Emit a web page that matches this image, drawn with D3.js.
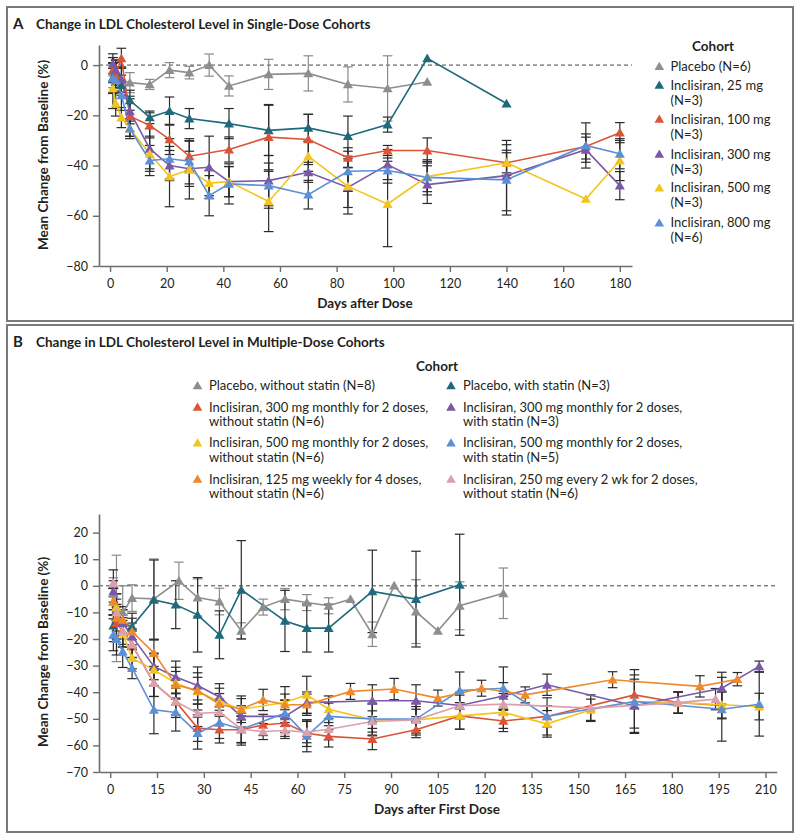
<!DOCTYPE html>
<html><head><meta charset="utf-8">
<script src="https://cdn.jsdelivr.net/npm/d3@7"></script>
<style>body{margin:0;background:#fff}svg text{font-family:Lato,"Open Sans",sans-serif;fill:#231f20}</style>
</head><body><svg id="c" width="800" height="839"></svg>
<script>
// ---------- Panel A data ----------
const colors = {placebo:"#8e8e8e", teal:"#1e6a7c", red:"#dc5438", purple:"#7a58a8", yellow:"#f3c51c", blue:"#5b8fd6", orange:"#ee8a2c", pink:"#dba0ae"};
const aPlaceboDays=[1,2,4,7,14,21,28,35,42,56,70,84,98,112];
const aPlaceboVals=[-3,-4,-6,-7,-7.7,-2,-3,0,-8.3,-3.7,-3.3,-7.7,-9.3,-6.7];
const aPlaceboErr=[6,5,5,4,2,3,2.5,4.4,4,6,7,7,13,0];
const a25Days=[1,2,4,7,14,21,28,42,56,70,84,98,112,140];
const a25Vals=[-5,-3,-8,-14,-20.8,-18.3,-21.3,-23.3,-26,-25,-28.3,-23.7,2.7,-15.3];
const a25Err=[6,5,4,4,2.5,5.6,4,6,10,5.4,8,3,0,0];
const a100Days=[1,2,4,7,14,21,28,42,56,70,84,98,112,140,168,180];
const a100Vals=[-2,-4,2.7,-20.4,-24,-29.6,-36.3,-33.6,-28.7,-29.6,-36.9,-34,-34,-38.9,-32.4,-26.9];
const a100Err=[5,5,4,8,5,6,6,5,13,10,4,2,5,4,5,4];
const a300Days=[1,2,4,7,14,21,28,35,42,56,70,84,98,112,140,168,180];
const a300Vals=[0.5,-2,-5.7,-18.4,-33.3,-40,-41.3,-40.7,-46.4,-46,-42.7,-48.7,-39.6,-47.6,-44,-33.7,-48];
const a300Err=[4,4,5,5,8,6,7,12.4,6,10,4,8,6,7.5,14,5,5.6];
const a500Days=[1,2,4,7,14,21,28,35,42,56,70,84,98,112,140,168,180];
const a500Vals=[-9.3,-15.3,-20.9,-25.3,-35.3,-44.4,-41.7,-47,-46.4,-54.3,-36.3,-48.3,-55.3,-44.4,-38.9,-53.3,-38];
const a500Err=[8,5,4,3,7,12,11.6,5,6,12,6,11,17,6,5,0,8];
const a800Days=[1,2,4,7,14,21,28,35,42,56,70,84,98,112,140,168,180];
const a800Vals=[-5.3,-6,-12,-25.3,-38,-37.3,-38.3,-52,-47.3,-48,-51.6,-42.3,-42,-44.7,-45.7,-32,-35.3];
const a800Err=[6,5,6,4,6,8,9,8,8,9,5.7,8,5,7,14,9,6];
const aLabels=[["Placebo (N=6)"],["Inclisiran, 25 mg","(N=3)"],["Inclisiran, 100 mg","(N=3)"],["Inclisiran, 300 mg","(N=3)"],["Inclisiran, 500 mg","(N=3)"],["Inclisiran, 800 mg","(N=6)"]];
const aXTicks=[0,20,40,60,80,100,120,140,160,180];
const aYTicks=[0,-20,-40,-60,-80];

// ---------- Panel B data ----------
const bPlaceboDays=[1,2,4,7,14,22,28,35,42,49,56,63,70,77,84,91,98,105,112,126];
const bPlaceboVals=[-3,-8.5,-10,-4.6,-4.9,1.9,-4.4,-5.9,-16.9,-8,-5,-6.3,-7.5,-5,-18.2,0.1,-9.7,-16.9,-7.5,-2.8];
const bPlaceboErr=[6,20,10,5,15,7,7,5,3,3,4,3,3,0,4.6,0,12,0,9,9.5];
const bPlStatDays=[1,2,4,7,14,21,28,35,42,56,63,70,84,98,112];
const bPlStatVals=[-15,-13,-14,-15.3,-5.3,-7.1,-10.9,-18.4,-1.5,-13.2,-15.9,-15.9,-2.1,-5,0.4];
const bPlStatErr=[6,6,5,5,15,9,14,9,18.5,11.5,9,9,15.5,18,19];
const b300Days=[1,2,4,7,14,21,28,35,42,49,56,63,70,84,98,112,126,140,168,182,196];
const b300Vals=[-6,-14,-17,-22.2,-36.6,-43.5,-53.5,-54.1,-54.1,-52.3,-51.6,-55.4,-56.6,-57.6,-54.1,-48.9,-50.8,-49.1,-41,-43.9,-45];
const b300Err=[5,6,6,6,5,6,5,5,5,4,5,5,4,4,3,5,4,4,5,4,5];
const b300sDays=[1,2,4,7,14,21,28,35,42,56,63,84,98,112,126,140,168,196,208];
const b300sVals=[-2.1,-8,-14,-19,-30.3,-34.3,-37.5,-41.8,-49.1,-49.1,-43.9,-43.2,-43.2,-45,-41.4,-37.2,-45.1,-38.5,-30.3];
const b300sErr=[4,5,5,5,5,6,7,5,4,6,4,6,6,5,5,4,10,6,2];
const b500Days=[1,2,4,7,14,21,28,35,42,56,63,70,84,98,112,126,140,154,168,182,196,208];
const b500Vals=[-6,-8,-18,-27.2,-31.6,-36.6,-39.7,-43.5,-46.4,-43.9,-41,-46.4,-50.4,-50.4,-48.9,-47.6,-51.9,-46.6,-43.5,-43.9,-44.7,-45.4];
const b500Err=[5,5,5,4,6,6,7,5,5,6,7,5,6,5,5,6,5,4,10,4,5,5];
const b500sDays=[1,2,4,7,14,21,28,35,42,56,63,70,84,98,112,126,140,168,196,208];
const b500sVals=[-18.4,-20,-24.7,-30.9,-46.6,-47.6,-55.4,-51.4,-53.9,-47.9,-56.4,-49.1,-50.1,-50.1,-39.4,-38.5,-49.1,-43.5,-46.4,-44.5];
const b500sErr=[6,6,6,4,9,7,6,6,6,5,6,5,6,6,7,8,7,12,12,12];
const b125Days=[1,2,4,7,14,21,28,35,42,49,56,63,77,91,105,119,133,161,189,201];
const b125Vals=[-5.9,-12,-12.8,-17.2,-25.3,-37.2,-39.4,-44.5,-46.4,-42.9,-44.7,-44.7,-39.7,-38.8,-42.2,-38.5,-41,-35.3,-37.8,-35.1];
const b125Err=[5,5,5,5,5,5,5,4,4,4,4,4,3,4,3,3,3,3,4,2.5];
const b250Days=[1,2,4,7,14,21,28,35,42,49,56,63,70,84,98,112,126,154,182,194];
const b250Vals=[1,-10,-17,-22,-36.6,-43.5,-47.9,-47.6,-53.9,-54.8,-54.4,-55,-53.9,-51,-50.4,-45.1,-44.5,-46,-43.9,-42.6];
const b250Err=[5,5,5,5,5,5,5,5,5,3,3,4,4,4,4,4,4,5,4,4];
const bLabels=[["Placebo, without statin (N=8)"],["Placebo, with statin (N=3)"],
 ["Inclisiran, 300 mg monthly for 2 doses,","without statin (N=6)"],["Inclisiran, 300 mg monthly for 2 doses,","with statin (N=3)"],
 ["Inclisiran, 500 mg monthly for 2 doses,","without statin (N=6)"],["Inclisiran, 500 mg monthly for 2 doses,","with statin (N=5)"],
 ["Inclisiran, 125 mg weekly for 4 doses,","without statin (N=6)"],["Inclisiran, 250 mg every 2 wk for 2 doses,","without statin (N=6)"]];
const bXTicks=[0,15,30,45,60,75,90,105,120,135,150,165,180,195,210];
const bYTicks=[20,10,0,-10,-20,-30,-40,-50,-60,-70];

function mk(days,vals,err,color,isPlacebo){return {pts:days.map((d,i)=>({d:d,v:vals[i],e:err[i]})),color:color,ebar:isPlacebo?"#8a8a8a":"#2b2b2b"};}
const seriesA=[mk(aPlaceboDays,aPlaceboVals,aPlaceboErr,colors.placebo,true),mk(a25Days,a25Vals,a25Err,colors.teal),
 mk(a100Days,a100Vals,a100Err,colors.red),mk(a300Days,a300Vals,a300Err,colors.purple),
 mk(a500Days,a500Vals,a500Err,colors.yellow),mk(a800Days,a800Vals,a800Err,colors.blue)];
const seriesB=[mk(bPlaceboDays,bPlaceboVals,bPlaceboErr,colors.placebo,true),mk(bPlStatDays,bPlStatVals,bPlStatErr,colors.teal),
 mk(b300Days,b300Vals,b300Err,colors.red),mk(b300sDays,b300sVals,b300sErr,colors.purple),
 mk(b500Days,b500Vals,b500Err,colors.yellow),mk(b500sDays,b500sVals,b500sErr,colors.blue),
 mk(b125Days,b125Vals,b125Err,colors.orange),mk(b250Days,b250Vals,b250Err,colors.pink)];
const legendColorsB=[colors.placebo,colors.teal,colors.red,colors.purple,colors.yellow,colors.blue,colors.orange,colors.pink];

const svg=d3.select("#c");
const tri=d3.symbol().type(d3.symbolTriangle).size(44);
const triLeg=d3.symbol().type(d3.symbolTriangle).size(40);
const fmt=v=>v<0?"\u2212"+Math.abs(v):String(v);

// frames
svg.append("rect").attr("x",7).attr("y",7).attr("width",786).attr("height",314).attr("fill","none").attr("stroke","#7a7a7a").attr("stroke-width",2);
svg.append("rect").attr("x",7).attr("y",325).attr("width",786).attr("height",507).attr("fill","none").attr("stroke","#7a7a7a").attr("stroke-width",2);

function panel(series,x,y,xt,yt,xlab,ylabY,xlabPos){
  const g=svg.append("g");
  const [x0,x1]=x.range(),[y0,y1]=y.range();
  g.append("line").attr("x1",x0).attr("x2",x1).attr("y1",y(0)).attr("y2",y(0)).attr("stroke","#444").attr("stroke-width",1).attr("stroke-dasharray","4,3");
  const ax=g.append("g").attr("transform",`translate(0,${y0})`).call(d3.axisBottom(x).tickValues(xt).tickSize(6).tickSizeOuter(0).tickFormat(fmt));
  const ay=g.append("g").attr("transform",`translate(${x0},0)`).call(d3.axisLeft(y).tickValues(yt).tickSize(6).tickSizeOuter(0).tickFormat(fmt));
  [ax,ay].forEach(a=>{a.select(".domain").attr("stroke","#6d6d6d").attr("stroke-width",1.6);
    a.selectAll(".tick line").attr("stroke","#6d6d6d").attr("stroke-width",1.4);
    a.selectAll(".tick text").attr("font-size",12.5).attr("fill","#231f20").style("font-family","Lato");});
  ax.selectAll(".tick text").attr("dy","1.05em");
  ay.selectAll(".tick text").attr("dx","-2");
  g.append("text").attr("x",xlabPos[0]).attr("y",xlabPos[1]).attr("text-anchor","middle").attr("font-size",13.5).attr("font-weight","bold").text(xlab);
  g.append("text").attr("transform",`translate(48,${ylabY}) rotate(-90)`).attr("text-anchor","middle").attr("font-size",13.5).attr("font-weight","bold").text("Mean Change from Baseline (%)");
  series.forEach(s=>{
    const eb=g.append("g").attr("stroke",s.ebar).attr("stroke-width",1.2);
    s.pts.filter(p=>p.e>0).forEach(p=>{
      const cx=x(p.d),t=y(p.v+p.e),b=y(p.v-p.e);
      eb.append("line").attr("x1",cx).attr("x2",cx).attr("y1",t).attr("y2",b);
      eb.append("line").attr("x1",cx-4.8).attr("x2",cx+4.8).attr("y1",t).attr("y2",t);
      eb.append("line").attr("x1",cx-4.8).attr("x2",cx+4.8).attr("y1",b).attr("y2",b);
    });
  });
  const line=d3.line().x(p=>x(p.d)).y(p=>y(p.v));
  series.forEach(s=>{
    g.append("path").datum(s.pts).attr("d",line).attr("fill","none").attr("stroke",s.color).attr("stroke-width",1.6);
  });
  series.forEach(s=>{
    g.selectAll(null).data(s.pts).enter().append("path").attr("d",tri)
      .attr("transform",p=>`translate(${x(p.d)},${y(p.v)+1})`).attr("fill",s.color);
  });
}

// Panel A
svg.append("text").attr("x",13).attr("y",29).attr("font-size",15).attr("font-weight","bold").text("A");
svg.append("text").attr("x",36).attr("y",29).attr("font-size",13.5).attr("font-weight","bold").text("Change in LDL Cholesterol Level in Single-Dose Cohorts");
const xA=d3.scaleLinear().domain([-3.9,184.3]).range([99,632]);
const yA=d3.scaleLinear().domain([-80,8]).range([266,45]);
panel(seriesA,xA,yA,aXTicks,aYTicks,"Days after Dose",155,[365,308]);

// Legend A
svg.append("text").attr("x",713).attr("y",51).attr("text-anchor","middle").attr("font-size",13.5).attr("font-weight","bold").text("Cohort");
const legAy=[66.3,85,119,154,187.7,222.7];
aLabels.forEach((lab,i)=>{
  svg.append("path").attr("d",triLeg).attr("transform",`translate(659.3,${legAy[i]+1})`).attr("fill",seriesA[i].color);
  lab.forEach((t,j)=>svg.append("text").attr("x",670.5).attr("y",legAy[i]+4.5+j*15.2).attr("font-size",13).text(t));
});

// Panel B
svg.append("text").attr("x",13).attr("y",347).attr("font-size",15).attr("font-weight","bold").text("B");
svg.append("text").attr("x",36).attr("y",347).attr("font-size",13.5).attr("font-weight","bold").text("Change in LDL Cholesterol Level in Multiple-Dose Cohorts");
const xB=d3.scaleLinear().domain([-3.6,213.6]).range([99,776.7]);
const yB=d3.scaleLinear().domain([-70,27]).range([772,514]);
panel(seriesB,xB,yB,bXTicks,bYTicks,"Days after First Dose",652,[437,814]);

// Legend B
svg.append("text").attr("x",437).attr("y",371).attr("text-anchor","middle").attr("font-size",13.5).attr("font-weight","bold").text("Cohort");
const legBy=[385.5,407,442.7,479];
bLabels.forEach((lab,i)=>{
  const row=Math.floor(i/2),col=i%2;
  const tx=col===0?197.5:451,lx=col===0?209:463;
  const yy=legBy[row];
  svg.append("path").attr("d",triLeg).attr("transform",`translate(${tx},${yy+1})`).attr("fill",legendColorsB[i]);
  lab.forEach((t,j)=>svg.append("text").attr("x",lx).attr("y",yy+4.5+j*14.5).attr("font-size",13).text(t));
});
</script></body></html>
